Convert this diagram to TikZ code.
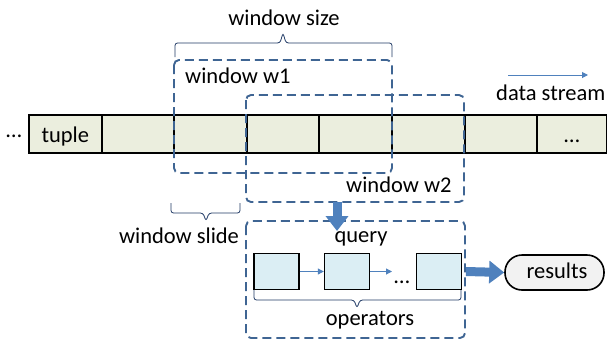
\documentclass[tikz,border=0pt]{standalone}
\usepackage{fontspec}
\setmainfont{Carlito}
\usetikzlibrary{positioning,arrows.meta}

\definecolor{cellfill}{HTML}{EBEEDE}
\definecolor{opfill}{HTML}{DBEEF4}
\definecolor{resfill}{HTML}{F2F2F2}
\definecolor{winline}{HTML}{3F6593}
\definecolor{bracecol}{HTML}{1F3864}
\definecolor{arrowcol}{HTML}{4F81BD}

\begin{document}
\begin{tikzpicture}[x=1pt, y=-1pt, every node/.style={font=\fontsize{22.5}{26}\selectfont, inner sep=0pt},
  cell/.style={fill=cellfill, minimum width=72.6pt, minimum height=38pt},
  opbox/.style={draw=black, line width=1.6pt, fill=opfill, minimum width=45pt, minimum height=36pt},
  winbox/.style={draw=winline, line width=1.9pt, dash pattern=on 9pt off 5pt, rounded corners=5pt},
  brace/.style={draw=bracecol, line width=0.8pt, rounded corners=2.5pt},
  thinarrow/.style={draw=arrowcol, line width=1pt, -{Triangle[length=6pt,width=6pt]}},
  fatarrow/.style={draw=arrowcol, line width=9pt, -{Triangle[length=15pt,width=22pt]}}]
  \useasboundingbox (0,0) rectangle (607,341);

  % the stream of tuples
  \foreach \i in {0,...,6}
    \node[cell] (c\i) at (29+72.6*\i+36.3, 134) {};
  \node[cell, minimum width=70pt] (c7) at (572,134) {};
  \foreach \i in {0,...,7}
    \draw[line width=1.6pt] (c\i.north west) rectangle (c\i.south east);
  \node[anchor=base] (dotsL) at (14,137) {…};
  \node[anchor=base] (tuple) at (c0 |- 0,142) {tuple};
  \node[anchor=base] (dotsR) at (c7 |- 0,142) {…};

  % the two windows
  \draw[winbox] (174,60) rectangle (392,173);
  \draw[winbox] (246,95) rectangle (464,202);
  \node[anchor=base west] (w1) at (185,83) {window w1};
  \node[anchor=base west] (w2) at (346,192) {window w2};

  % braces
  \draw[brace] (175,57) -- (175,43) -- (280,43) -- (283,33) -- (286,43) -- (392,43) -- (392,57);
  \node[anchor=base] (size) at (284,25) {window size};
  \draw[brace] (171,203) -- (171,213) -- (203,213) -- (206,221) -- (209,213) -- (240,213) -- (240,203);
  \node[anchor=base] (slide) at (179,243) {window slide};

  % data stream direction
  \coordinate (ds0) at (508,75);
  \coordinate (ds1) at (588,75);
  \draw[thinarrow] (ds0) -- (ds1);
  \node[anchor=base west] (stream) at (496,100) {data stream};

  % query with its operators
  \draw[winbox] (246,221) rectangle (465,338);
  \node[anchor=base] (query) at (361,242) {query};
  \node[opbox] (op1) at (276.5,271.5) {};
  \node[opbox, right=24pt of op1] (op2) {};
  \node[anchor=base] (opdots) at (402,283) {…};
  \node[opbox] (op3) at (439,271.5) {};
  \draw[thinarrow] (op1) -- (op2);
  \draw[thinarrow] (op2) -- (392,271.5);
  \draw[brace] (254,290) -- (254,300) -- (354,300) -- (357,308) -- (360,300) -- (461,300) -- (461,290);
  \node[anchor=base] (ops) at (370,325) {operators};

  % into the query and out to the results
  \coordinate (qin0) at (337,202);
  \coordinate (qin1) at (337,231);
  \draw[fatarrow] (qin0) -- (qin1);
  \node[draw=black, line width=1.6pt, fill=resfill, rounded corners=17pt, minimum width=99pt, minimum height=35pt] (res) at (554.5,272.5) {};
  \node[anchor=base] (restext) at (557,278) {results};
  \coordinate (rout) at (466,271.5);
  \draw[fatarrow] (rout) -- (res.west);
\end{tikzpicture}
\end{document}
